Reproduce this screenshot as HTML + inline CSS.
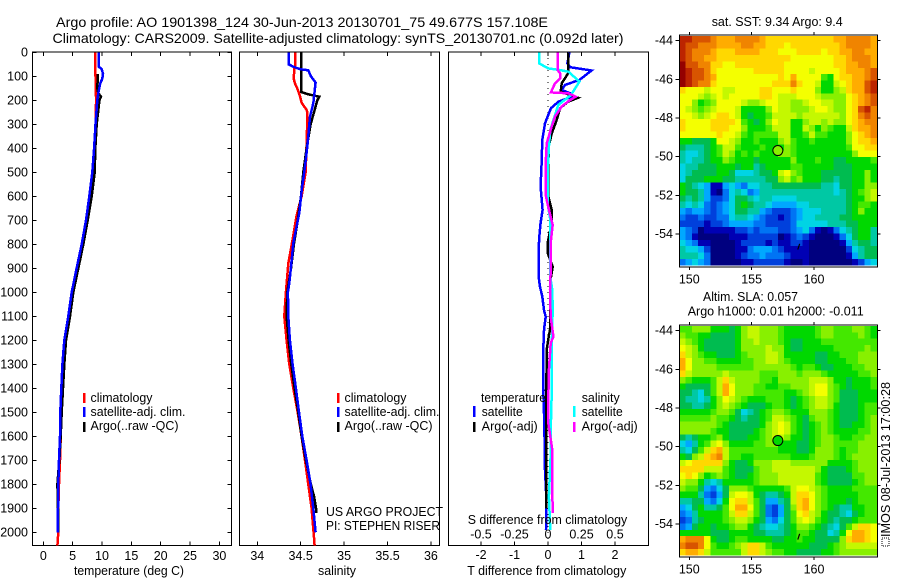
<!DOCTYPE html>
<html lang="en">
<head>
<meta charset="utf-8">
<title>Argo profile 1901398_124</title>
<style>
html,body{margin:0;padding:0;background:#fff;width:900px;height:580px;overflow:hidden}
svg{display:block}
text{font-family:"Liberation Sans",sans-serif;font-size:12.5px;fill:#000}
</style>
</head>
<body>
<svg id="chart" xmlns="http://www.w3.org/2000/svg" width="900" height="580" viewBox="0 0 900 580">
  <rect x="0" y="0" width="900" height="580" fill="#fff"/>
  <text x="56" y="27" font-size="14" style="font-size:14px" textLength="492" lengthAdjust="spacingAndGlyphs">Argo profile: AO 1901398_124 30-Jun-2013 20130701_75 49.677S 157.108E</text>
  <text x="52.5" y="43" style="font-size:14px" textLength="571" lengthAdjust="spacingAndGlyphs">Climatology: CARS2009. Satellite-adjusted climatology: synTS_20130701.nc (0.092d later)</text>

  <g id="plots"></g>

  <text x="74" y="575" textLength="110" lengthAdjust="spacingAndGlyphs">temperature (deg C)</text>
  <text x="318" y="575" textLength="38" lengthAdjust="spacingAndGlyphs">salinity</text>
  <text x="467.3" y="575" textLength="159" lengthAdjust="spacingAndGlyphs">T difference from climatology</text>
  <text x="467.7" y="524" textLength="159.5" lengthAdjust="spacingAndGlyphs">S difference from climatology</text>

  <g>
    <rect x="83" y="393" width="2.5" height="10" fill="#f00"/>
    <rect x="83" y="407" width="2.5" height="10" fill="#00f"/>
    <rect x="83" y="422" width="2.5" height="10" fill="#000"/>
    <text x="90.5" y="402" textLength="62" lengthAdjust="spacingAndGlyphs">climatology</text>
    <text x="90.5" y="416" textLength="95" lengthAdjust="spacingAndGlyphs">satellite-adj. clim.</text>
    <text x="90.5" y="430" textLength="88" lengthAdjust="spacingAndGlyphs">Argo(..raw -QC)</text>
  </g>
  <g>
    <rect x="337" y="393" width="2.5" height="10" fill="#f00"/>
    <rect x="337" y="407" width="2.5" height="10" fill="#00f"/>
    <rect x="337" y="422" width="2.5" height="10" fill="#000"/>
    <text x="344.5" y="402" textLength="62" lengthAdjust="spacingAndGlyphs">climatology</text>
    <text x="344.5" y="416" textLength="95" lengthAdjust="spacingAndGlyphs">satellite-adj. clim.</text>
    <text x="344.5" y="430" textLength="88" lengthAdjust="spacingAndGlyphs">Argo(..raw -QC)</text>
  </g>
  <text x="326" y="516" textLength="117" lengthAdjust="spacingAndGlyphs">US ARGO PROJECT</text>
  <text x="326" y="530" textLength="114" lengthAdjust="spacingAndGlyphs">PI: STEPHEN RISER</text>

  <g>
    <text x="481" y="402" textLength="65" lengthAdjust="spacingAndGlyphs">temperature</text>
    <rect x="473" y="406" width="2.5" height="11" fill="#00f"/>
    <rect x="473" y="422" width="2.5" height="10" fill="#000"/>
    <text x="481.7" y="416" textLength="41" lengthAdjust="spacingAndGlyphs">satellite</text>
    <text x="481.7" y="430.5" textLength="56" lengthAdjust="spacingAndGlyphs">Argo(-adj)</text>
    <text x="581.7" y="402" textLength="38" lengthAdjust="spacingAndGlyphs">salinity</text>
    <rect x="573" y="406" width="2.5" height="11" fill="#0ff"/>
    <rect x="573" y="422" width="2.5" height="10" fill="#f0f"/>
    <text x="581.7" y="416" textLength="41" lengthAdjust="spacingAndGlyphs">satellite</text>
    <text x="581.7" y="430.5" textLength="56" lengthAdjust="spacingAndGlyphs">Argo(-adj)</text>
  </g>

  <text x="711.7" y="26" textLength="131" lengthAdjust="spacingAndGlyphs">sat. SST: 9.34  Argo: 9.4</text>
  <text x="703" y="301" textLength="95" lengthAdjust="spacingAndGlyphs">Altim. SLA: 0.057</text>
  <text x="687.7" y="315.7" textLength="176" lengthAdjust="spacingAndGlyphs">Argo h1000: 0.01 h2000: -0.011</text>

  <rect x="882" y="538" width="7" height="8" fill="#fff" stroke="#000" stroke-width="1" stroke-dasharray="1 1" shape-rendering="crispEdges"/>
  <text transform="translate(890,537) rotate(-90)" x="0" y="0" textLength="155" lengthAdjust="spacingAndGlyphs">IMOS 08-Jul-2013 17:00:28</text>
</svg>

<script>
// ---------- axis tick data ----------
const depthTicks = [0,100,200,300,400,500,600,700,800,900,1000,1100,1200,1300,1400,1500,1600,1700,1800,1900,2000];
const tempTicks = [0,5,10,15,20,25,30];
const salTicks = [34,34.5,35,35.5,36];
const salTickLabels = ['34','34.5','35','35.5','36'];
const tDiffTicks = [-2,-1,0,1,2];
const sDiffTickLabels = ['-0.5','-0.25','0','0.25','0.5'];
const sDiffTicks = [-0.5,-0.25,0,0.25,0.5];
const lonTicks = [150,155,160];
const latTicks = [-44,-46,-48,-50,-52,-54];

// ---------- temperature profiles ----------
const tempClimDepth = [0,100,200,300,400,500,600,700,800,900,1000,1100,1200,1300,1400,1500,1600,1700,1800,1900,2000,2055];
const tempClimValues = [8.86,8.9,9.0,8.9,8.65,8.47,7.95,7.44,6.7,5.86,5.0,4.38,3.75,3.4,3.25,3.13,2.96,2.85,2.67,2.55,2.55,2.4];
const tempArgoDepth = [90,150,170,185,200,300,400,500,600,700,800,900,1000,1100,1200,1300,1400,1500,1600,1700,1800,1900,2000];
const tempArgoValues = [9.3,9.2,9.37,9.83,9.55,9.1,8.86,8.75,8.24,7.56,6.82,5.96,5.11,4.55,3.87,3.58,3.36,3.13,2.96,2.73,2.4,2.5,2.5];
const tempSatDepth = [0,60,70,90,110,130,170,200,300,400,500,600,700,800,900,1000,1100,1200,1300,1400,1500,1600,1700,1800,1900,2000];
const tempSatValues = [9.43,9.43,9.95,10.17,10.05,9.7,9.37,9.2,8.9,8.65,8.35,7.84,7.27,6.54,5.68,4.83,4.26,3.58,3.25,3.07,2.9,2.85,2.67,2.55,2.5,2.45];

// ---------- salinity profiles ----------
const salClimDepth = [0,50,70,110,130,150,180,210,240,250,350,500,600,680,780,880,1000,1100,1200,1300,1400,1500,1600,1700,1800,1900,2000,2055];
const salClimValues = [34.438,34.438,34.426,34.419,34.434,34.46,34.49,34.51,34.568,34.576,34.572,34.557,34.51,34.453,34.407,34.357,34.33,34.311,34.338,34.369,34.415,34.465,34.51,34.549,34.588,34.626,34.649,34.66];
const salArgoDepth = [0,165,175,185,200,250,300,400,500,600,700,800,900,1000,1100,1200,1300,1400,1500,1600,1700,1800,1850,1900,1920];
const salArgoValues = [34.503,34.503,34.588,34.714,34.691,34.653,34.614,34.568,34.53,34.503,34.465,34.422,34.388,34.346,34.338,34.361,34.392,34.43,34.472,34.51,34.56,34.618,34.653,34.676,34.676];
const salSatDepth = [0,50,60,70,75,100,126,212,268,380,476,574,670,740,796,893,962,1000,1100,1200,1300,1400,1500,1600,1700,1800,1900,2000];
const salSatValues = [34.361,34.361,34.415,34.49,34.588,34.618,34.672,34.645,34.607,34.58,34.549,34.511,34.484,34.445,34.415,34.388,34.369,34.353,34.357,34.376,34.407,34.445,34.48,34.518,34.568,34.614,34.645,34.672];

// ---------- difference profiles ----------
const diffTSatDepth = [0,46,62,76,115,136,157,171,185,206,233,296,365,462,560,657,711,768,824,935,977,1018,1074,1102,1136,1177,1294,1407,1545,1740,1852,1990];
const diffTSatValues = [0.64,0.58,0.66,1.30,0.94,0.51,0.41,0.66,0.71,0.31,0.09,-0.09,-0.17,-0.19,-0.22,-0.16,-0.22,-0.26,-0.28,-0.28,-0.24,-0.17,-0.12,-0.07,-0.10,-0.13,-0.14,-0.14,-0.11,-0.09,-0.05,-0.06];
const diffTArgoDepth = [0,60,88,129,164,189,206,233,282,338,393,490,601,657,711,794,836,894,961,1018,1074,1157,1185,1240,1310,1407,1545,1740,1900];
const diffTArgoValues = [0.60,0.60,0.60,0.41,0.38,0.90,0.60,0.36,0.26,0.11,0.02,0.01,0.01,0.11,0.11,-0.01,-0.01,0.14,0.06,0.06,0.07,0.06,0.02,-0.04,-0.04,-0.06,-0.05,-0.05,-0.05];
const diffSSatDepth = [0,46,67,74,81,122,178,219,282,324,393,490,629,657,698,935,990,1074,1211,1407,1545,1657,1740,1852,1990];
const diffSSatValues = [-0.067,-0.067,0.002,0.09,0.152,0.234,0.172,0.077,0.04,0.017,0.007,-0.002,-0.002,0.005,0.017,0.017,0.032,0.035,0.028,0.028,0.022,0.022,0.015,0.007,0.017];
const diffSArgoDepth = [0,74,88,108,129,167,171,185,199,226,268,310,379,462,601,657,719,794,907,990,1102,1185,1211,1324,1407,1545,1657,1852,1920];
const diffSArgoValues = [0.072,0.072,0.09,0.09,0.052,0.022,0.152,0.206,0.164,0.102,0.052,0.027,-0.01,-0.017,-0.015,0.007,0.035,0.02,0.02,0.015,0.02,0.04,0.02,0.007,0.004,0.002,0.032,0.032,0.037];

// ---------- map data: colour-scale level per cell ----------
const colorLevels = ['#00007f','#0000b4','#0040dc','#0074f4','#00a8ff','#00d4e4','#00c8a4','#00bc50','#00d800','#44e800','#88f000','#c4f800','#f4ff00','#ffd800','#ffac00','#f08400','#d85400','#bc2400','#940000'];
const sstRows = [
[17,17,16,16,16,15,14,14,14,15,15,15,15,14,13,13,13,13,13,13,13,13,13,13,13,14,14,15,15,15,15,14],
[17,16,16,15,15,15,14,14,14,14,15,15,14,14,13,13,13,12,13,13,13,13,13,13,13,13,14,15,15,15,15,14],
[17,16,15,15,15,14,13,13,13,14,14,14,14,13,13,13,12,12,12,13,13,13,13,12,13,13,14,14,15,15,14,14],
[17,16,15,15,14,14,13,13,13,13,13,13,13,13,13,13,13,13,12,12,12,12,12,12,12,13,13,14,15,15,15,14],
[18,16,16,15,15,13,13,12,12,13,13,13,13,13,13,13,13,12,12,12,12,12,12,12,12,13,13,14,14,15,15,14],
[18,17,16,16,15,13,12,12,12,12,12,12,13,13,13,13,13,12,12,12,12,11,12,12,12,12,13,14,14,14,15,16],
[18,17,16,16,15,14,12,12,12,12,12,12,12,12,12,12,13,12,14,12,12,12,12,9,8,12,13,13,14,14,15,16],
[18,17,16,15,15,13,12,12,12,12,12,12,12,12,12,13,13,13,15,13,12,12,11,8,8,11,12,13,14,14,16,17],
[13,12,12,12,11,12,12,11,11,12,12,12,12,13,13,12,12,12,13,12,12,12,10,8,8,10,11,13,14,14,16,17],
[12,12,12,11,10,11,12,11,12,12,12,12,12,13,13,12,11,11,11,12,12,12,11,10,10,10,10,12,13,14,15,16],
[12,12,10,8,9,10,12,12,12,12,11,10,10,11,12,12,11,11,10,10,11,12,12,11,11,10,10,12,13,14,15,16],
[12,11,10,9,10,11,12,12,12,11,8,8,8,8,10,12,11,11,10,10,10,11,12,12,11,10,10,12,13,16,17,15],
[12,12,11,10,11,12,13,13,12,11,8,7,8,8,9,11,11,11,11,10,11,11,11,11,11,11,10,12,13,15,16,15],
[13,12,12,12,12,13,13,13,13,12,9,8,7,8,10,12,11,11,8,8,10,11,11,10,11,10,10,12,13,14,15,15],
[13,12,12,12,12,13,13,13,12,12,10,8,8,8,9,11,11,11,8,8,11,10,8,10,9,8,8,11,13,14,14,15],
[12,12,12,12,12,12,13,12,12,11,9,8,9,9,9,9,11,11,8,8,9,11,9,9,8,8,8,10,12,13,14,15],
[8,8,7,7,7,8,12,12,11,10,8,8,9,8,8,8,10,11,9,8,8,9,8,8,8,8,8,10,12,13,13,14],
[7,6,6,6,7,8,9,11,11,9,8,8,8,9,8,8,8,10,9,8,8,8,8,8,8,8,8,9,12,12,13,13],
[6,5,5,6,7,8,9,11,10,8,9,8,9,8,8,8,10,10,9,8,8,8,8,8,8,8,8,8,10,12,12,12],
[6,5,6,6,7,8,8,10,9,8,8,8,7,8,8,8,8,8,10,8,8,8,9,8,8,7,7,8,8,8,8,9],
[5,6,6,7,7,7,8,8,8,7,8,8,6,7,8,8,8,8,9,9,8,8,8,8,8,7,7,7,8,8,8,8],
[5,6,7,7,7,7,8,8,7,5,5,5,6,7,7,8,11,12,10,9,8,8,8,7,7,7,7,7,8,8,10,8],
[5,7,7,7,8,8,8,7,7,6,6,6,6,6,7,7,10,11,9,10,8,8,8,7,7,6,7,7,8,8,10,8],
[8,7,6,5,4,1,1,4,5,4,3,5,5,6,6,7,7,7,7,7,7,7,7,6,6,5,7,7,8,8,10,10],
[8,7,7,6,4,1,0,3,5,6,5,3,4,6,6,6,6,6,6,6,6,6,6,6,6,5,6,7,8,9,10,11],
[7,6,7,6,4,2,2,3,5,7,7,6,5,6,6,5,5,5,5,6,6,6,6,6,6,6,6,7,8,8,10,11],
[6,5,6,5,3,2,3,4,5,7,8,7,6,6,5,4,4,4,4,5,5,6,6,6,6,6,6,7,8,9,9,8],
[4,3,4,4,3,2,3,4,5,7,7,6,6,4,3,2,2,2,3,4,5,5,5,6,6,6,6,7,8,10,8,8],
[3,2,2,3,2,2,3,3,5,6,6,5,4,3,2,2,1,2,3,4,5,5,6,6,6,6,7,7,8,8,8,8],
[2,2,2,2,1,2,2,3,4,4,4,4,3,3,2,2,2,2,3,5,5,5,5,5,6,6,6,7,7,8,8,8],
[4,3,2,0,1,1,1,1,1,2,2,3,2,3,3,3,2,2,3,4,5,3,1,0,1,3,5,6,7,8,8,6],
[4,3,1,0,0,0,0,0,1,1,1,2,2,2,2,2,0,1,2,3,2,1,0,0,0,1,3,5,7,8,8,6],
[5,4,3,1,1,0,0,0,0,1,2,2,2,2,1,2,1,1,2,2,1,0,0,0,0,0,1,4,6,7,7,6],
[6,5,5,4,2,0,0,0,0,1,1,3,4,4,4,3,2,1,1,1,1,0,0,0,0,0,0,2,5,6,7,7],
[6,6,6,5,3,0,0,0,0,1,2,3,3,4,3,3,3,2,1,1,1,0,0,0,0,0,0,1,4,6,7,7],
[3,4,5,4,3,0,0,0,0,0,1,1,2,2,2,2,2,1,0,0,1,0,0,0,0,0,0,0,1,2,4,5]
];
const slaRows = [
[9,9,10,10,10,8,8,8,7,8,10,11,11,10,10,10,9,8,8,8,8,8,9,10,10,9,9,9,10,10,9,8],
[10,9,9,8,8,7,7,7,7,8,10,11,11,10,10,10,9,8,8,8,8,8,9,10,10,9,9,9,9,10,9,8],
[11,10,9,8,7,7,7,7,7,8,10,10,11,10,10,10,9,8,7,7,8,8,8,9,9,9,9,9,9,9,9,9],
[12,11,10,8,7,7,7,7,7,8,10,10,10,10,11,10,10,8,7,7,8,8,8,8,8,9,9,9,9,9,10,9],
[13,11,10,9,8,8,7,7,7,8,9,10,10,10,11,11,10,8,8,8,8,8,7,7,8,8,9,9,9,10,10,10],
[14,12,10,10,9,9,8,8,8,8,9,9,10,10,11,11,10,9,8,8,8,8,7,7,8,8,8,9,9,10,10,10],
[14,12,10,10,10,10,9,9,9,9,9,9,10,10,10,10,10,10,9,8,9,9,8,7,7,8,8,8,9,9,10,10],
[13,11,10,10,10,10,10,11,10,10,10,10,10,9,9,9,10,10,10,9,10,10,10,9,8,8,8,8,8,9,9,10],
[10,9,8,8,8,9,11,13,11,10,10,10,10,9,9,8,10,10,10,10,10,11,11,11,10,8,8,7,8,8,8,9],
[8,7,7,7,7,9,11,14,12,10,10,10,9,9,8,8,9,9,10,10,10,11,12,12,10,9,8,7,8,8,8,9],
[7,7,6,5,7,9,11,14,12,10,10,10,9,9,9,9,9,8,8,9,10,11,12,12,10,9,7,7,7,8,8,8],
[7,6,6,5,6,8,10,12,11,10,9,8,8,8,9,9,9,8,7,8,9,10,11,11,10,9,7,7,7,8,8,8],
[7,7,6,6,7,8,10,11,10,9,8,7,7,7,8,9,9,8,7,8,9,10,11,11,10,8,7,7,7,8,9,9],
[8,8,8,8,8,9,10,10,9,7,5,6,7,8,9,10,10,9,8,8,8,10,10,10,9,8,7,7,7,8,9,9],
[9,9,9,9,9,10,9,9,8,7,6,7,7,8,9,11,11,10,9,8,7,9,10,10,9,8,7,7,7,8,9,10],
[10,10,10,10,10,10,9,8,7,7,7,7,7,8,10,11,12,11,9,8,7,8,9,10,9,8,7,7,8,8,9,10],
[10,10,10,10,10,9,8,8,7,7,7,7,8,9,10,11,12,11,9,8,7,8,9,10,9,8,8,8,8,9,9,10],
[7,6,7,8,8,9,10,8,7,7,7,8,8,9,10,11,11,10,8,8,7,8,9,10,10,9,8,8,9,9,10,10],
[5,4,6,8,9,11,12,10,8,8,8,8,9,9,10,10,8,8,8,7,7,8,9,10,10,9,9,9,9,10,10,10],
[6,5,7,9,11,13,14,11,9,9,9,9,9,9,9,9,8,8,8,7,7,8,10,10,10,9,8,9,9,10,10,10],
[8,7,10,11,13,14,15,11,9,9,8,8,9,9,9,9,9,9,8,8,8,9,10,10,10,9,8,9,10,10,10,10],
[11,12,13,13,13,13,13,10,8,7,7,8,10,10,10,11,11,11,10,10,10,10,10,10,8,8,8,8,9,10,10,10],
[13,13,13,13,11,11,11,9,8,7,7,7,9,10,10,11,11,11,11,11,11,11,10,8,7,7,7,8,9,10,10,10],
[12,13,12,10,8,9,10,9,8,7,7,8,9,10,10,10,11,11,11,11,11,11,9,8,7,7,7,7,9,9,10,10],
[11,10,10,8,6,5,6,8,8,8,8,8,9,10,10,10,11,11,11,11,11,11,9,8,7,7,7,7,8,9,10,10],
[10,9,9,7,4,3,5,7,10,10,10,9,8,8,8,8,8,9,11,12,12,11,10,9,8,8,8,8,9,9,9,9],
[8,8,8,6,3,2,4,7,11,12,12,11,8,7,6,6,7,8,11,13,13,12,10,9,8,8,8,8,8,9,9,9],
[6,6,7,7,4,3,5,8,12,13,13,11,9,7,4,4,6,7,11,13,14,12,10,9,8,8,8,7,8,9,9,9],
[4,5,7,8,6,6,7,9,12,14,14,12,9,7,3,2,4,7,10,13,14,12,10,9,8,7,6,6,8,8,9,9],
[3,4,6,8,8,8,8,9,11,13,13,11,9,7,3,2,4,7,9,12,13,11,10,8,7,7,6,5,7,8,9,9],
[2,3,6,7,8,8,8,9,10,11,11,10,8,7,4,3,5,7,9,11,12,11,9,8,7,6,7,7,8,9,9,9],
[3,4,7,8,8,7,8,8,9,10,10,8,7,6,5,5,6,7,8,10,10,9,8,7,6,5,7,9,11,13,13,12],
[8,8,8,8,8,7,7,7,8,8,8,8,7,7,6,6,6,7,8,9,9,8,7,7,5,6,8,12,14,14,13,12],
[14,15,15,15,12,8,7,7,8,9,9,8,8,8,8,7,7,8,8,9,8,8,7,7,7,7,10,13,14,14,13,12],
[15,16,16,15,12,9,8,8,9,10,11,13,13,11,9,8,8,8,8,8,8,7,7,7,8,9,10,11,11,11,11,11],
[13,14,14,13,11,9,9,9,9,9,11,13,13,11,10,9,9,8,8,7,7,7,7,8,8,9,10,10,10,10,10,10]
];
const profileLon = [157.1];
const profileLat = [-49.68];
const trackLon = [158.85,158.7];
const trackLat = [-54.5,-54.8];

// ---------- helpers ----------
const NS = 'http://www.w3.org/2000/svg';
const root = document.getElementById('plots');
function el(tag, attrs, parent) {
  const e = document.createElementNS(NS, tag);
  for (const k in attrs) e.setAttribute(k, attrs[k]);
  (parent || root).appendChild(e);
  return e;
}
const depthY = d => 52.3 + 0.24 * d;
const tempX = t => 43.3 + 5.87 * t;
const salX = s => 257.3 + 86.8 * (s - 34);
const tDiffX = t => 548 + 33.5 * t;
const sDiffX = s => 548 + 134 * s;
const PANEL_TOP = 52, PANEL_BOTTOM = 545.5;

function drawFrame(x0, x1, y0, y1, name) {
  const r = el('rect', {x:x0, y:y0, width:x1-x0, height:y1-y0, fill:'none', stroke:'#000', 'stroke-width':1, 'shape-rendering':'crispEdges'});
  
  
}
function drawTick(x1, y1, x2, y2) {
  const t = el('line', {x1, y1, x2, y2, stroke:'#000', 'stroke-width':1, 'shape-rendering':'crispEdges'});
  
  
}
function drawLabel(x, y, str, anchor) {
  const t = el('text', {x, y, 'text-anchor':anchor});
  t.textContent = str;
  
  
}
function drawLine(depths, values, xFn, color, name) {
  const pts = depths.map((d, i) => xFn(values[i]).toFixed(1) + ',' + depthY(d).toFixed(1)).join(' ');
  const p = el('polyline', {points:pts, fill:'none', stroke:color, 'stroke-width':2.5, 'stroke-linejoin':'miter', 'shape-rendering':'crispEdges'});
  
  
}

// ---------- profile panels ----------
function xTicks(ticks, xFn) {
  ticks.forEach(v => {
    drawTick(xFn(v), PANEL_TOP, xFn(v), PANEL_TOP + 4);
    drawTick(xFn(v), PANEL_BOTTOM, xFn(v), PANEL_BOTTOM - 4);
  });
}
// temperature
drawFrame(32.5, 231.5, PANEL_TOP, PANEL_BOTTOM, 'temperature-panel-frame');
xTicks(tempTicks, tempX);
tempTicks.forEach(v => drawLabel(tempX(v), 560, String(v), 'middle'));
depthTicks.forEach(d => {
  drawTick(32.5, depthY(d), 36.5, depthY(d));
  drawTick(231.5, depthY(d), 227.5, depthY(d));
  drawLabel(28, depthY(d) + 4, String(d), 'end');
});
drawLine(tempClimDepth, tempClimValues, tempX, '#f00', 'temperature-climatology-line');
drawLine(tempArgoDepth, tempArgoValues, tempX, '#000', 'temperature-argo-line');
drawLine(tempSatDepth, tempSatValues, tempX, '#00f', 'temperature-satellite-line');

// salinity
drawFrame(239.5, 439.5, PANEL_TOP, PANEL_BOTTOM, 'salinity-panel-frame');
xTicks(salTicks, salX);
salTicks.forEach((v, i) => drawLabel(salX(v), 560, salTickLabels[i], 'middle'));
drawLine(salClimDepth, salClimValues, salX, '#f00', 'salinity-climatology-line');
drawLine(salArgoDepth, salArgoValues, salX, '#000', 'salinity-argo-line');
drawLine(salSatDepth, salSatValues, salX, '#00f', 'salinity-satellite-line');

// differences
drawFrame(448.5, 648.5, PANEL_TOP, PANEL_BOTTOM, 'difference-panel-frame');
xTicks(tDiffTicks, tDiffX);
tDiffTicks.forEach(v => drawLabel(tDiffX(v), 559, String(v), 'middle'));
sDiffTicks.forEach((v, i) => drawLabel(sDiffX(v), 538.3, sDiffTickLabels[i], 'middle'));
const zeroLine = el('line', {x1:tDiffX(0), y1:PANEL_TOP, x2:tDiffX(0), y2:PANEL_BOTTOM, stroke:'#000', 'stroke-width':1, 'stroke-dasharray':'1 5', 'shape-rendering':'crispEdges'});


drawLine(diffTSatDepth, diffTSatValues, tDiffX, '#00f', 'diff-t-satellite-line');
drawLine(diffTArgoDepth, diffTArgoValues, tDiffX, '#000', 'diff-t-argo-line');
drawLine(diffSSatDepth, diffSSatValues, sDiffX, '#0ff', 'diff-s-satellite-line');
drawLine(diffSArgoDepth, diffSArgoValues, sDiffX, '#f0f', 'diff-s-argo-line');

// ---------- maps ----------
const MAP_LEFT = 679.5, MAP_CELL_W = 6.16, MAP_CELL_H = 6.37;
const lonX = lon => 689.3 + 12.47 * (lon - 150);
function drawMap(rows, top, frameBottom, lat44Y, circleColor, name) {
  const latY = lat => lat44Y + 9.67 * 2 * (-44 - lat);
  const g = el('g', {'shape-rendering':'crispEdges'});
  
  
  rows.forEach((row, r) => row.forEach((v, c) => {
    const cell = el('rect', {x:(MAP_LEFT + c * MAP_CELL_W).toFixed(2), y:(top + r * MAP_CELL_H).toFixed(2), width:MAP_CELL_W + 0.3, height:MAP_CELL_H + 0.3, fill:colorLevels[Math.max(0, Math.min(colorLevels.length - 1, Math.round(v)))]}, g);
    
    
  }));
  drawFrame(679.5, 877.5, top - 1, frameBottom, name + '-frame');
  lonTicks.forEach(v => {
    drawTick(lonX(v), top - 1, lonX(v), top - 4);
    drawTick(lonX(v), frameBottom, lonX(v), frameBottom + 3);
    drawLabel(lonX(v), frameBottom + 16.5, String(v), 'middle');
  });
  latTicks.forEach(v => {
    drawTick(679.5, latY(v), 675.5, latY(v));
    drawTick(877.5, latY(v), 880.5, latY(v));
    drawLabel(673, latY(v) + 4, String(v), 'end');
  });
  const circle = el('circle', {cx:lonX(profileLon[0]), cy:latY(profileLat[0]), r:5, fill:circleColor, stroke:'#000', 'stroke-width':1});
  
  
  const track = el('line', {x1:lonX(trackLon[0]), y1:latY(trackLat[0]), x2:lonX(trackLon[1]), y2:latY(trackLat[1]), stroke:'#000', 'stroke-width':1.2});
  
  
}
drawMap(sstRows, 36, 267, 40.7, colorLevels[10], 'sst-map');
drawMap(slaRows, 326, 557, 330.7, colorLevels[8], 'sla-map');
</script>
</body>
</html>
